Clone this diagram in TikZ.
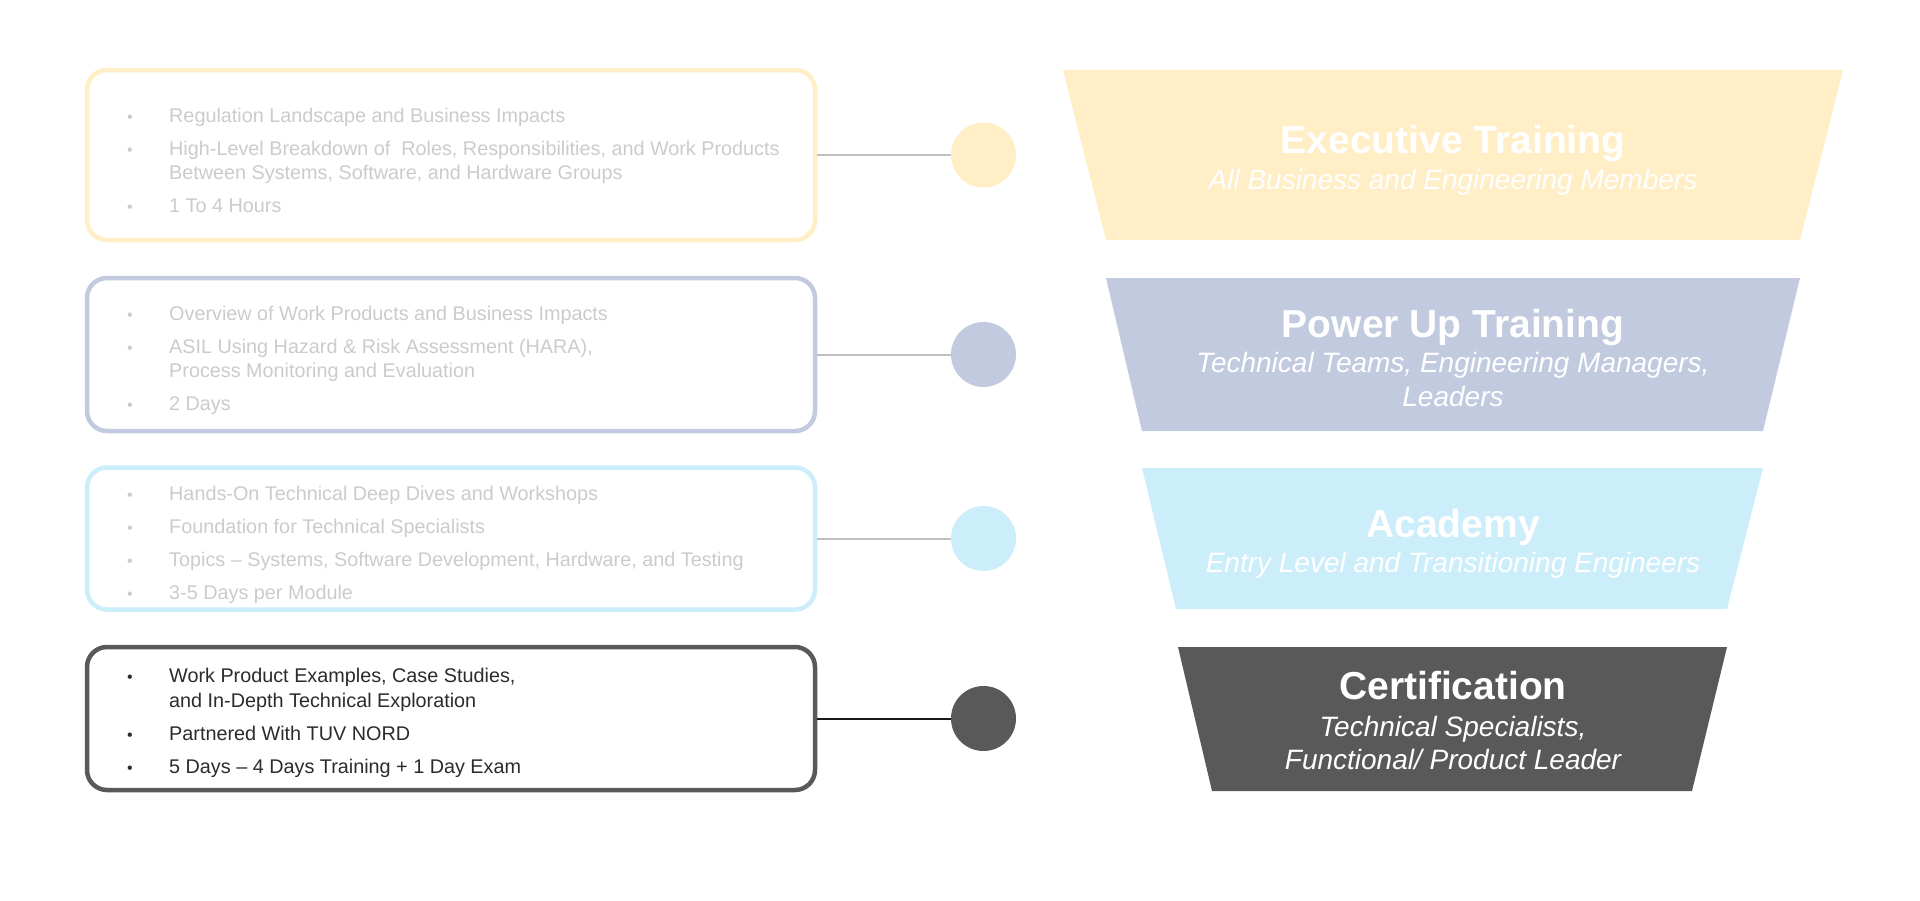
\documentclass[tikz,border=0pt]{standalone}
\usepackage{fontspec}
\setmainfont{Liberation Sans}
\usepackage{xcolor}
\usetikzlibrary{positioning}
\definecolor{execyellow}{HTML}{FFEEC6}
\definecolor{powerblue}{HTML}{C1CADF}
\definecolor{academycyan}{HTML}{CCEEFB}
\definecolor{certgrey}{HTML}{595959}
\definecolor{fadedtext}{HTML}{CBCBCB}
\definecolor{darktext}{HTML}{2B2B2B}
\tikzstyle{topic-box} = [draw, line width=4.5pt, rounded corners=20pt,
    rectangle, minimum width=728pt, inner sep=0pt]
\tikzstyle{topic-text} = [anchor=west, align=left, inner sep=0pt,
    font=\fontsize{19.8}{24.5}\selectfont]
\tikzstyle{tier-dot} = [circle, minimum size=65pt, inner sep=0pt]
\tikzstyle{tier-link} = [line width=2pt, draw=gray!50]
\tikzstyle{tier-title} = [text=white, inner sep=0pt,
    font=\fontsize{39}{45}\selectfont\bfseries]
\tikzstyle{tier-sub} = [text=white, align=center, inner sep=0pt,
    font=\fontsize{28}{33.5}\selectfont\itshape]
\newcommand{\topicitem}[1]{\makebox[42pt][l]{\fontsize{16}{16}\selectfont\textbullet}#1}
\newcommand{\topicmore}[1]{\hspace*{42pt}#1}

\begin{document}
\begin{tikzpicture}[x=1pt,y=-1pt]
\useasboundingbox (0,0) rectangle (1920,900);

% left boxes
\node [topic-box, draw=execyellow, minimum height=170pt] (exec-box) at (451,155) {};
\node [topic-box, draw=powerblue, minimum height=153pt] (power-box) at (451,354.5) {};
\node [topic-box, draw=academycyan, minimum height=142pt] (academy-box) at (451,538.5) {};
\node [topic-box, draw=certgrey, minimum height=143pt] (cert-box) at (451,718.5) {};

\node [topic-text, text=fadedtext] (exec-text) at (127,160.5) {%
    \topicitem{Regulation Landscape and Business Impacts}\\[8.5pt]
    \topicitem{High-Level Breakdown of\ \ Roles, Responsibilities, and Work Products}\\
    \topicmore{Between Systems, Software, and Hardware Groups}\\[8.5pt]
    \topicitem{1 To 4 Hours}};
\node [topic-text, text=fadedtext] (power-text) at (127,360.5) {%
    \topicitem{Overview of Work Products and Business Impacts}\\[8.5pt]
    \topicitem{ASIL Using Hazard \& Risk Assessment (HARA),}\\
    \topicmore{Process Monitoring and Evaluation}\\[8.5pt]
    \topicitem{2 Days}};
\node [topic-text, text=fadedtext] (academy-text) at (127,545) {%
    \topicitem{Hands-On Technical Deep Dives and Workshops}\\[8.5pt]
    \topicitem{Foundation for Technical Specialists}\\[8.5pt]
    \topicitem{Topics -- Systems, Software Development, Hardware, and Testing}\\[8.5pt]
    \topicitem{3-5 Days per Module}};
\node [topic-text, text=darktext] (cert-text) at (127,723) {%
    \topicitem{Work Product Examples, Case Studies,}\\
    \topicmore{and In-Depth Technical Exploration}\\[8.5pt]
    \topicitem{Partnered With TUV NORD}\\[8.5pt]
    \topicitem{5 Days -- 4 Days Training + 1 Day Exam}};

% dots and links
\node [tier-dot, fill=execyellow] (exec-dot) at (983.5,155) {};
\node [tier-dot, fill=powerblue] (power-dot) at (983.5,354.5) {};
\node [tier-dot, fill=academycyan] (academy-dot) at (983.5,538.5) {};
\node [tier-dot, fill=certgrey] (cert-dot) at (983.5,718.5) {};

\draw [tier-link] (exec-box.east) -- (exec-dot.west);
\draw [tier-link] (power-box.east) -- (power-dot.west);
\draw [tier-link] (academy-box.east) -- (academy-dot.west);
\draw [tier-link, draw=black!90] (cert-box.east) -- (cert-dot.west);

% funnel
\fill [execyellow] (1063,70) -- (1843,70) -- (1800,240) -- (1106,240) -- cycle;
\fill [powerblue] (1106,278) -- (1800,278) -- (1763,431) -- (1142,431) -- cycle;
\fill [academycyan] (1142,468) -- (1763,468) -- (1727,609) -- (1176,609) -- cycle;
\fill [certgrey] (1178,647) -- (1727,647) -- (1692,791) -- (1212,791) -- cycle;

\node [tier-title] (exec-title) at (1453,143.5) {Executive Training};
\node [tier-sub] (exec-sub) at (1453,182.5) {All Business and Engineering Members};
\node [tier-title] (power-title) at (1453,327) {Power Up Training};
\node [tier-sub] (power-sub) at (1453,379.5) {Technical Teams, Engineering Managers,\\Leaders};
\node [tier-title] (academy-title) at (1453,527) {Academy};
\node [tier-sub] (academy-sub) at (1453,565.5) {Entry Level and Transitioning Engineers};
\node [tier-title] (cert-title) at (1453,686) {Certification};
\node [tier-sub] (cert-sub) at (1453,743) {Technical Specialists,\\Functional/ Product Leader};
\end{tikzpicture}
\end{document}
